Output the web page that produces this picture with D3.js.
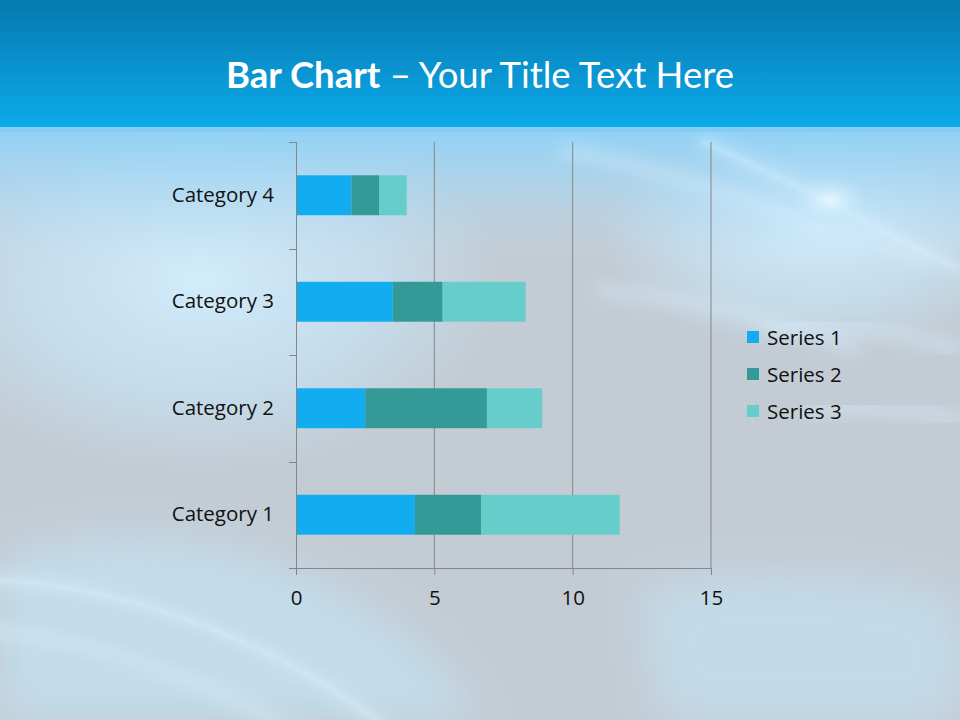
<!DOCTYPE html>
<html><head><meta charset="utf-8">
<script src="https://cdn.jsdelivr.net/npm/d3@7"></script>
<style>html,body{margin:0;padding:0;background:#c3ccd4;}svg{display:block;}</style>
</head><body>
<svg id="c" width="960" height="720"></svg>
<script>
const categories = ["Category 1", "Category 2", "Category 3", "Category 4"];
const seriesNames = ["Series 1", "Series 2", "Series 3"];
const series1 = [4.3, 2.5, 3.5, 2.0];
const series2 = [2.4, 4.4, 1.8, 1.0];
const series3 = [5.0, 2.0, 3.0, 1.0];
const xTicks = [0, 5, 10, 15];
const colors = ["#12acf0", "#339a98", "#66cdcb"];

const svg = d3.select("#c");
const defs = svg.append("defs");

// ---- background ----
const bannerG = defs.append("linearGradient").attr("id","banner").attr("x1",0).attr("y1",0).attr("x2",0).attr("y2",1);
bannerG.append("stop").attr("offset","0%").attr("stop-color","#0679b0");
bannerG.append("stop").attr("offset","100%").attr("stop-color","#0caaea");

const topFade = defs.append("linearGradient").attr("id","topFade").attr("x1",0).attr("y1",0).attr("x2",0).attr("y2",1);
topFade.append("stop").attr("offset","0%").attr("stop-color","#8ed1f6").attr("stop-opacity",1);
topFade.append("stop").attr("offset","100%").attr("stop-color","#b6def7").attr("stop-opacity",0);

const glow = defs.append("radialGradient").attr("id","glow");
glow.append("stop").attr("offset","0%").attr("stop-color","#d2eefd").attr("stop-opacity",0.95);
glow.append("stop").attr("offset","60%").attr("stop-color","#c6e6fa").attr("stop-opacity",0.6);
glow.append("stop").attr("offset","100%").attr("stop-color","#c4e6fa").attr("stop-opacity",0);

const glowR = defs.append("radialGradient").attr("id","glowR");
glowR.append("stop").attr("offset","0%").attr("stop-color","#e8f8ff").attr("stop-opacity",0.95);
glowR.append("stop").attr("offset","100%").attr("stop-color","#bfe4fb").attr("stop-opacity",0);

const blur = defs.append("filter").attr("id","blur").attr("x","-20%").attr("y","-20%").attr("width","140%").attr("height","140%");
blur.append("feGaussianBlur").attr("stdDeviation",8);
const blur2 = defs.append("filter").attr("id","blur2").attr("x","-20%").attr("y","-20%").attr("width","140%").attr("height","140%");
blur2.append("feGaussianBlur").attr("stdDeviation",2.5);
const blur3 = defs.append("filter").attr("id","blur3").attr("x","-30%").attr("y","-30%").attr("width","160%").attr("height","160%");
blur3.append("feGaussianBlur").attr("stdDeviation",20);

const bg = svg.append("g");
bg.append("rect").attr("x",0).attr("y",127).attr("width",960).attr("height",593).attr("fill","#c3ccd4");
bg.append("ellipse").attr("cx",200).attr("cy",280).attr("rx",300).attr("ry",190).attr("fill","url(#glow)");
bg.append("ellipse").attr("cx",820).attr("cy",230).attr("rx",220).attr("ry",120).attr("fill","url(#glow)");
bg.append("path").attr("d","M0,560 C150,500 380,560 480,720 L0,720 Z").attr("fill","#c2e6fa").attr("opacity",0.6).attr("filter","url(#blur3)");
bg.append("path").attr("d","M640,590 C760,560 900,580 960,600 L960,720 L660,720 Z").attr("fill","#c2e6fa").attr("opacity",0.55).attr("filter","url(#blur3)");
bg.append("rect").attr("x",0).attr("y",127).attr("width",960).attr("height",130).attr("fill","url(#topFade)");
const streaks = [
  "M-20,580 C120,580 300,650 400,740",
  "M-20,630 C100,640 240,690 300,740",
  "M560,150 C680,170 820,230 930,260",
  "M700,140 C790,180 880,230 960,270",
  "M760,330 C830,320 900,330 960,350",
  "M800,410 C860,405 920,410 960,420",
  "M600,290 C700,300 780,320 860,350"
];
bg.selectAll("path.streak").data(streaks).join("path").attr("class","streak")
  .attr("d",d=>d).attr("fill","none").attr("stroke","#d9f1ff").attr("stroke-width",12).attr("opacity",0.45).attr("filter","url(#blur)");
bg.selectAll("path.streak2").data([streaks[0],streaks[3]]).join("path").attr("class","streak2")
  .attr("d",d=>d).attr("fill","none").attr("stroke","#eefaff").attr("stroke-width",2).attr("opacity",0.5).attr("filter","url(#blur2)");
bg.append("ellipse").attr("cx",830).attr("cy",200).attr("rx",40).attr("ry",25).attr("fill","url(#glowR)");
bg.append("rect").attr("x",0).attr("y",0).attr("width",960).attr("height",127).attr("fill","url(#banner)");
bg.append("rect").attr("x",0).attr("y",127).attr("width",960).attr("height",5).attr("fill","#7fcaf3").attr("opacity",0.7);

// ---- title ----
const title = svg.append("text").attr("x",480).attr("y",88).attr("text-anchor","middle")
  .attr("fill","#ffffff").style("font-family","Lato, 'Open Sans', sans-serif").style("font-size","36.5px");
title.append("tspan").attr("font-weight","bold").text("Bar Chart");
title.append("tspan").text(" \u2013 Your Title Text Here");

// ---- chart ----
const x = d3.scaleLinear().domain([0,15]).range([296,711]);
const y = d3.scaleBand().domain(categories).range([568,142]).paddingInner(0.625).paddingOuter(0.3125);
const yEdges = d3.scaleLinear().domain([0,categories.length]).range([568,142]);
const axisColor = "#868686";
const font = "'Open Sans', Lato, sans-serif";
const fs = "20.5px";

const grid = svg.append("g");
grid.selectAll("line").data(xTicks.filter(t=>t>0)).join("line")
  .attr("x1",d=>x(d)).attr("x2",d=>x(d)).attr("y1",142).attr("y2",568)
  .attr("stroke",axisColor).attr("stroke-width",1);

const stacked = d3.stack().keys([0,1,2])(categories.map((c,i)=>[series1[i],series2[i],series3[i]]));
svg.append("g").selectAll("g").data(stacked).join("g").attr("fill",(d,i)=>colors[i])
  .selectAll("rect").data(d=>d).join("rect")
  .attr("x",d=>x(d[0])).attr("width",d=>x(d[1])-x(d[0]))
  .attr("y",(d,i)=>y(categories[i])).attr("height",y.bandwidth());

// x axis
const xAxis = svg.append("g").attr("transform","translate(0,568)")
  .call(d3.axisBottom(x).tickValues(xTicks).tickSize(7).tickSizeOuter(0).tickPadding(15));
xAxis.select(".domain").attr("stroke",axisColor).attr("d","M289,0.5H711");
xAxis.selectAll(".tick line").attr("stroke",axisColor);
xAxis.selectAll(".tick text").attr("fill","#111").style("font-family",font).style("font-size",fs);

// y axis
const yAxis = svg.append("g").attr("transform","translate(296,0)")
  .call(d3.axisLeft(y).tickSize(0).tickPadding(22));
yAxis.select(".domain").attr("stroke",axisColor).attr("d","M0.5,142V568");
yAxis.selectAll(".tick text").attr("fill","#111").style("font-family",font).style("font-size",fs);
yAxis.append("g").selectAll("line").data(d3.range(categories.length+1)).join("line")
  .attr("x1",-7).attr("x2",0).attr("y1",d=>Math.round(yEdges(d))+0.5).attr("y2",d=>Math.round(yEdges(d))+0.5)
  .attr("stroke",axisColor);

// legend
const legend = svg.append("g").attr("transform","translate(747,331)");
const li = legend.selectAll("g").data(seriesNames).join("g").attr("transform",(d,i)=>`translate(0,${i*37})`);
li.append("rect").attr("width",12).attr("height",12).attr("fill",(d,i)=>colors[i]);
li.append("text").attr("x",20).attr("y",13.5).text(d=>d).attr("fill","#111")
  .style("font-family",font).style("font-size",fs);
</script>
</body></html>
